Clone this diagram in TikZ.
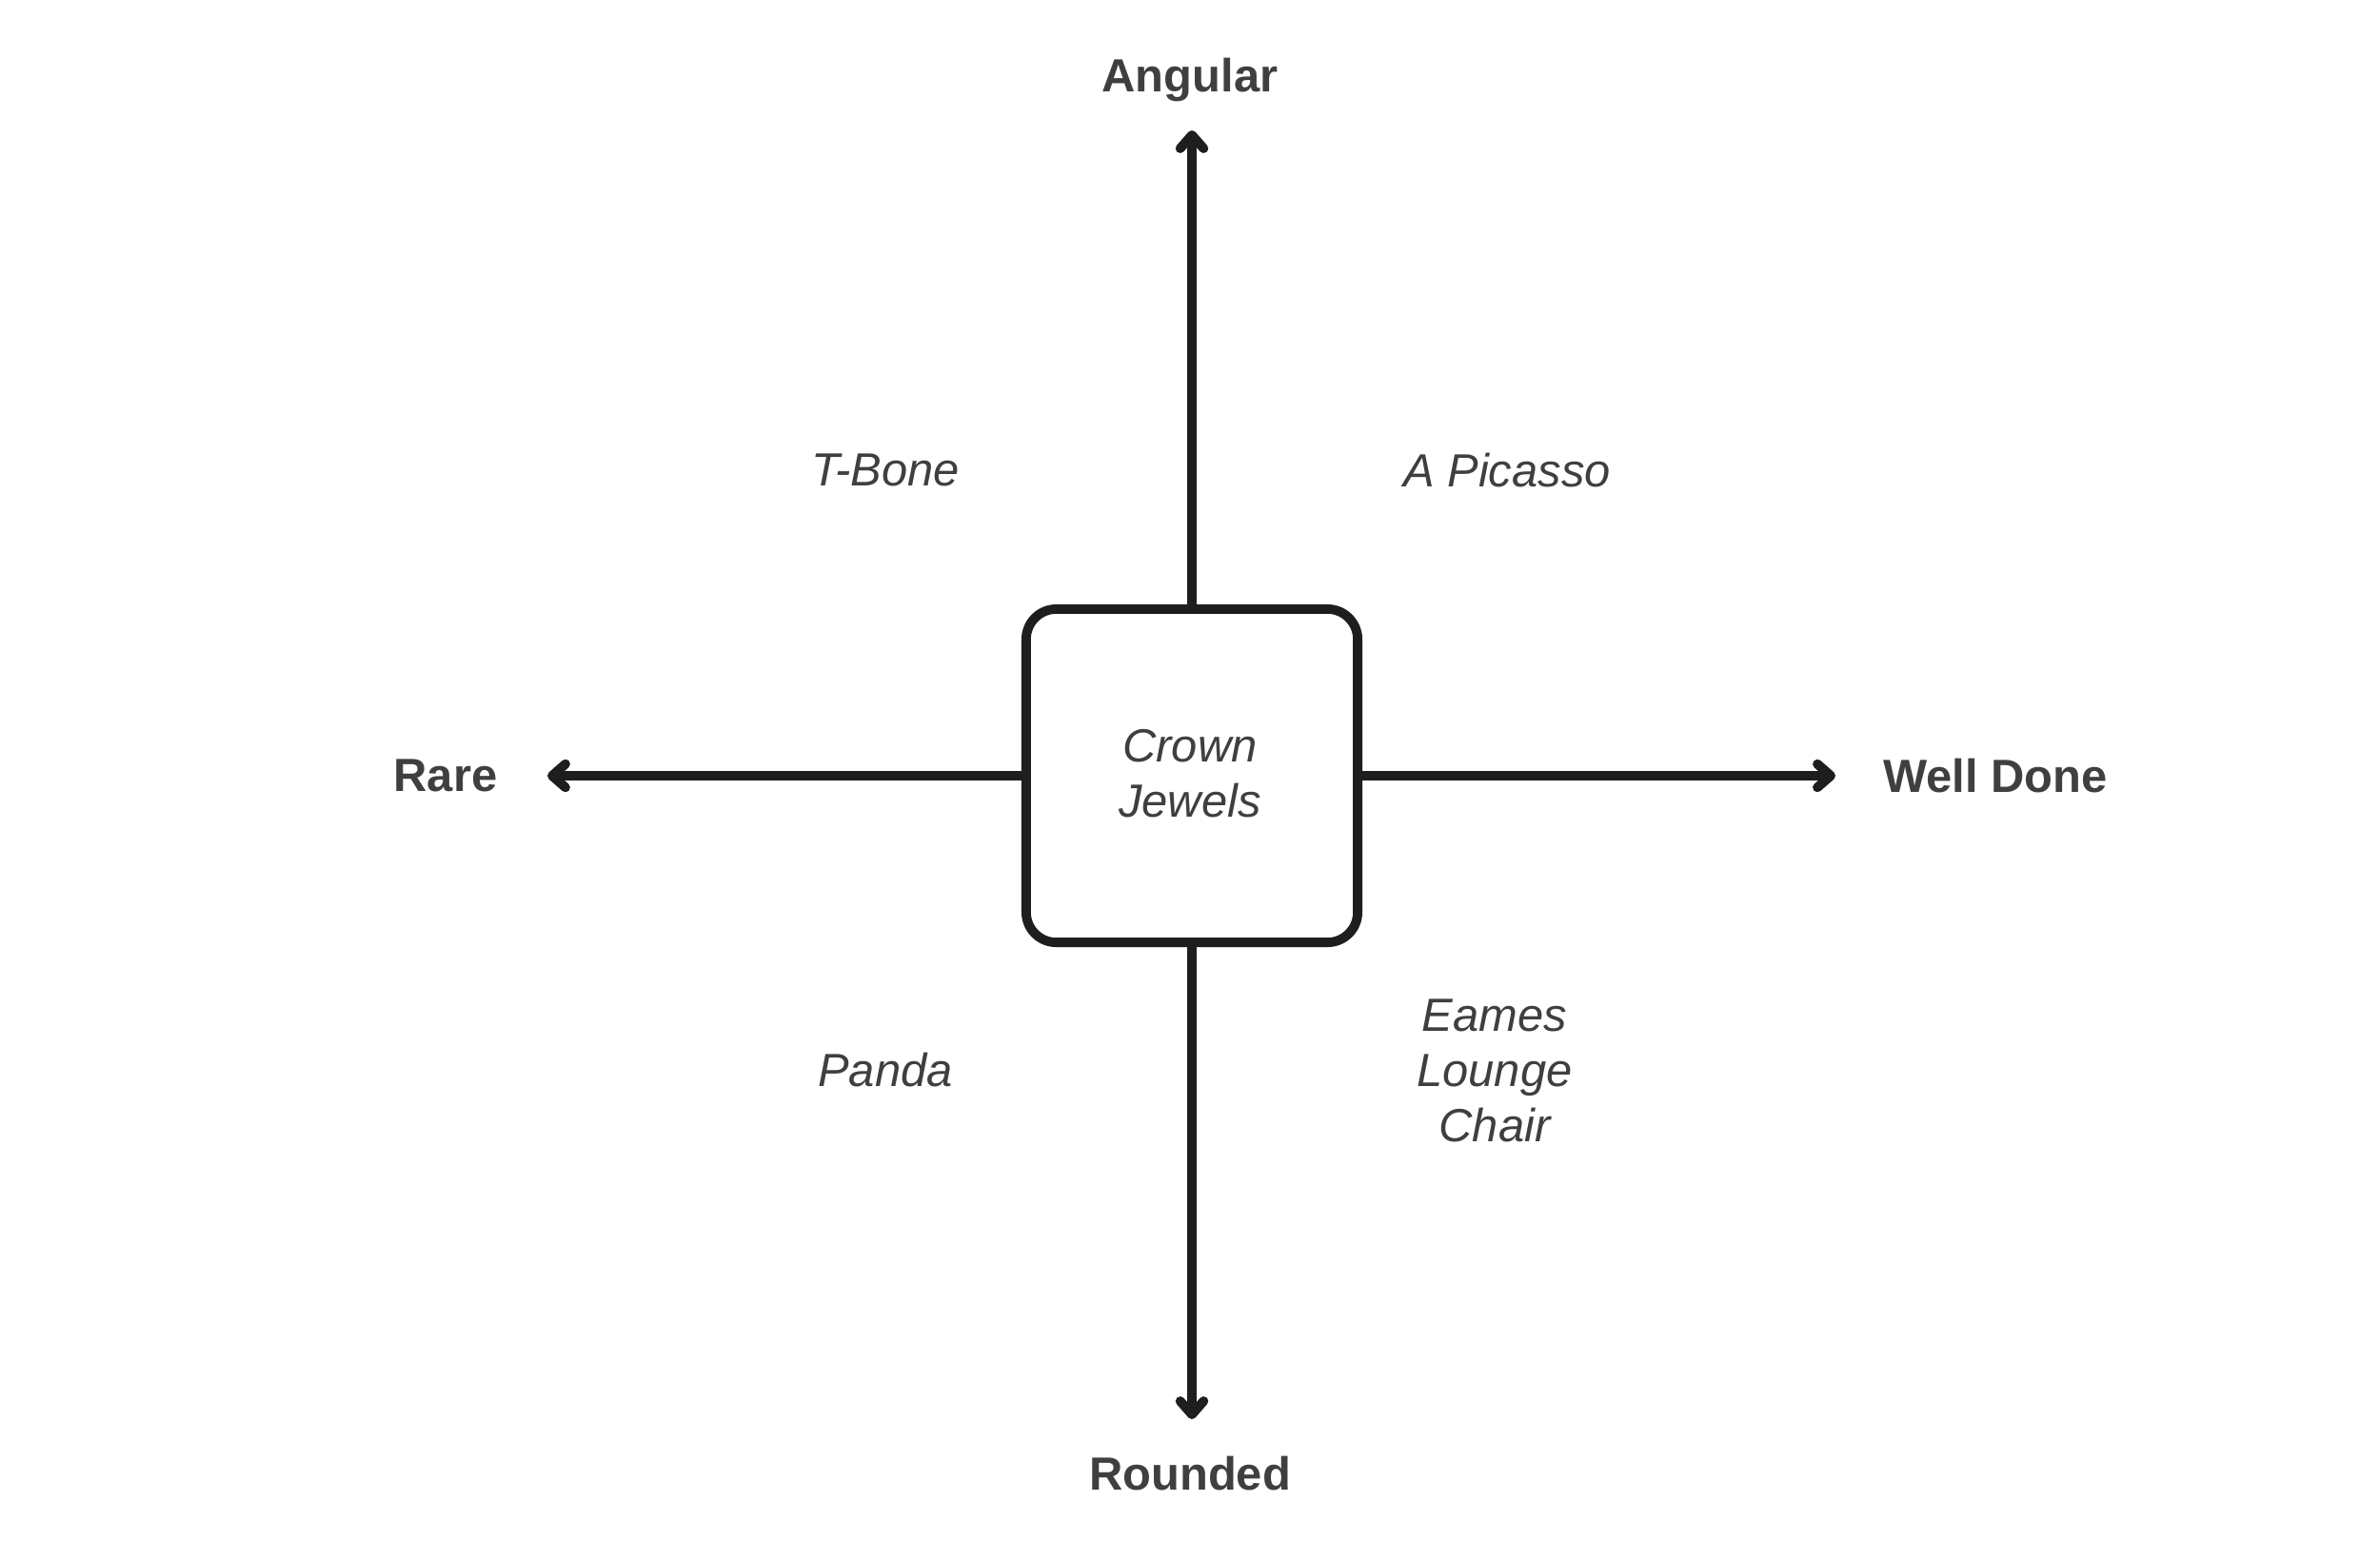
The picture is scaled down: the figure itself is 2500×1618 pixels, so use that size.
\documentclass[tikz,border=0pt]{standalone}
\usepackage{fontspec}
\setmainfont{Liberation Sans}
\usetikzlibrary{arrows.meta}
\definecolor{inkline}{HTML}{1E1E1E}
\definecolor{inktext}{HTML}{3F3F3F}

\begin{document}
\begin{tikzpicture}[
  x=0.01cm, y=-0.01cm,
  axis/.style={draw=inkline, line width=2.8pt, line cap=round, line join=round,
    -{Straight Barb[length=4pt, width=7pt, line cap=round, line join=round]}},
  pole/.style={font=\fontsize{13.9}{16.5}\selectfont\bfseries, text=inktext, inner sep=0pt},
  item/.style={font=\fontsize{13.9}{16.5}\selectfont\itshape, text=inktext, align=center, inner sep=0pt},
  core/.style={draw=inkline, line width=2.8pt, rounded corners=9pt, minimum width=3.48cm, minimum height=3.50cm}
]
  \useasboundingbox (0,0) rectangle (2500,1618);

  % centre box
  \node[core] (C) at (1252,815) {};
  \node[item] (CJ) at (1250,813) {Crown\\Jewels};

  % axis ends
  \coordinate (N) at (1252,137);
  \coordinate (S) at (1252,1491);
  \coordinate (W) at (575,815);
  \coordinate (E) at (1928,815);

  \draw[axis] (C.north) -- (N);
  \draw[axis] (C.south) -- (S);
  \draw[axis] (C.west) -- (W);
  \draw[axis] (C.east) -- (E);

  % pole labels
  \node[pole, anchor=base] (ang) at (1250,97) {Angular};
  \node[pole] (rnd) at (1250,1548) {Rounded};
  \node[pole] (rar) at (468,815) {Rare};
  \node[pole] (wd) at (2096,815) {Well Done};

  % quadrant items
  \node[item] (tb) at (930,494) {T-Bone};
  \node[item] (pic) at (1583,494) {A Picasso};
  \node[item] (pan) at (930,1124) {Panda};
  \node[item] (eam) at (1570,1125) {Eames\\Lounge\\Chair};
\end{tikzpicture}
\end{document}
